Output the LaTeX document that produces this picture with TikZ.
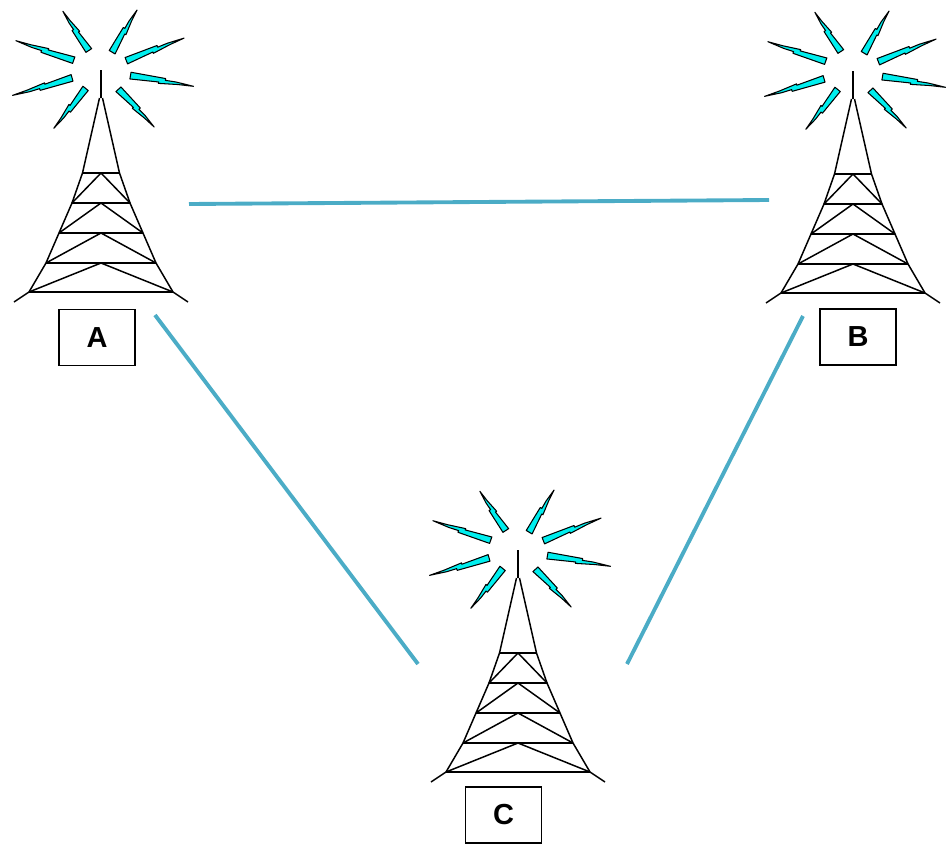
\documentclass[tikz,border=0pt]{standalone}
\usepackage{fontspec}
\setmainfont{Liberation Sans}
\usepackage{tikz}
\usetikzlibrary{positioning}

\definecolor{linkblue}{RGB}{75,172,198}
\definecolor{boltcyan}{RGB}{0,238,238}

\begin{document}
\begin{tikzpicture}[x=0.02cm,y=-0.02cm,
	link/.style={draw=linkblue,line width=2.2pt},
	lab/.style={draw,line width=0.85pt,minimum width=1.52cm,minimum height=1.12cm,
		font=\fontsize{16.5}{20}\selectfont\bfseries},
	pics/bolt/.style 2 args={code={
		\filldraw[fill=boltcyan,draw=black,line width=0.6pt,line join=round]
			(#1,3.8) -- ({#1+0.45*(#2-#1)},1.8) -- ({#1+0.45*(#2-#1)},3.2)
			-- ({#1+0.75*(#2-#1)},1) -- (#2,0)
			-- ({#1+0.72*(#2-#1)},-1.2) -- ({#1+0.55*(#2-#1)},-1)
			-- ({#1+0.55*(#2-#1)},-2.8) -- (#1,-3) -- cycle;
	}},
	pics/mast/.style={code={
		% lightning round the tip
		\pic[rotate=123] {bolt={23}{70}};
		\pic[rotate=59] {bolt={21}{70}};
		\pic[rotate=161] {bolt={29}{90}};
		\pic[rotate=21] {bolt={27}{89}};
		\pic[rotate=196] {bolt={30}{92}};
		\pic[rotate=-10] {bolt={30}{94}};
		\pic[rotate=231] {bolt={24}{75}};
		\pic[rotate=-47] {bolt={26}{78}};
		% the tower
		\begin{scope}[line width=0.85pt,line join=round]
		\draw (0,0) -- (0,28);
		\draw (-1.5,28) -- (-18.5,103) -- (-29,133) -- (-42,163) -- (-55,193) -- (-72,222) -- (-87,232);
		\draw (1.5,28) -- (18.5,103) -- (29,133) -- (42,163) -- (55,193) -- (72,222) -- (87,232);
		\foreach \y/\w in {103/18.5,133/29,163/42,193/55,222/72}
			\draw[line width=1.1pt] (-\w,\y) -- (\w,\y);
		\foreach \y/\yy/\w in {103/133/29,133/163/42,163/193/55,193/222/72}
			\draw (-\w,\yy) -- (0,\y) -- (\w,\yy);
		\end{scope}
	}}]
	\useasboundingbox (0,0) rectangle (946,845);

	\pic at (101,70) {mast};
	\pic at (853,71) {mast};
	\pic at (518,550) {mast};

	\node[lab] (labA) at (97,337.5) {A};
	\node[lab] (labB) at (858,337) {B};
	\node[lab] (labC) at (503.5,815) {C};

	% ends of the links
	\coordinate (ab1) at (189,204);
	\coordinate (ab2) at (769,200);
	\coordinate (ac1) at (155,315);
	\coordinate (ac2) at (418,664);
	\coordinate (bc1) at (803,316);
	\coordinate (bc2) at (627,664);

	\draw[link] (ab1) -- (ab2);
	\draw[link] (ac1) -- (ac2);
	\draw[link] (bc1) -- (bc2);
\end{tikzpicture}
\end{document}
